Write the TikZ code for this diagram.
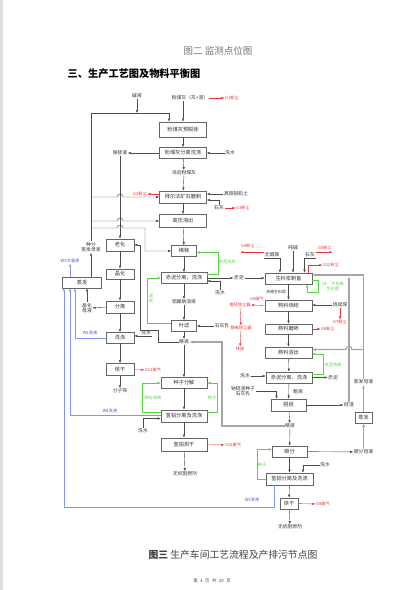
\documentclass[tikz,border=0pt]{standalone}
\usepackage{fontspec}
\setmainfont{Noto Sans CJK SC}
\usetikzlibrary{arrows.meta}
\definecolor{ggreen}{RGB}{80,215,60}
\definecolor{lblue}{RGB}{130,150,250}
\definecolor{dblue}{RGB}{80,80,230}
\definecolor{rred}{RGB}{235,50,50}

\begin{document}
\begin{tikzpicture}[x=1pt, y=-1pt,
    box/.style={draw=black!60, line width=0.6pt, fill=white, minimum width=47pt, minimum height=11pt, inner sep=0pt, font=\fontsize{5.2}{6}\selectfont, text=black!80},
    sbox/.style={box, minimum width=28pt},
    lab/.style={inner sep=0.5pt, font=\fontsize{4.8}{5.6}\selectfont, text=black!80, align=center},
    rlab/.style={lab, text=rred, font=\fontsize{4.2}{5}\selectfont},
    glab/.style={lab, text=ggreen, font=\fontsize{4.2}{5}\selectfont},
    blab/.style={lab, text=dblue, font=\fontsize{4.2}{5}\selectfont},
    ln/.style={draw=black!70, line width=0.4pt},
    arr/.style={ln, -{Latex[length=3pt, width=2.4pt]}},
    rarr/.style={arr, draw=rred},
    garr/.style={arr, draw=ggreen},
    barr/.style={arr, draw=lblue},
    tline/.style={draw=black!35, line width=1.2pt},
    tarr/.style={tline, -{Latex[length=3.5pt, width=3pt]}}
]
\useasboundingbox (0,0) rectangle (416,590);
\fill[black!12] (0,0) rectangle (2.5,590);

% page texts
\node[font=\fontsize{9.5}{11}\selectfont, text=black!55] at (218,51) (fig2) {图二\ 监测点位图};
\node[font=\bfseries\fontsize{10.2}{12}\selectfont] at (134,74) (sec3) {三、生产工艺图及物料平衡图};
\node[font=\fontsize{9.8}{11}\selectfont, text=black!75] at (233,555) (fig3) {{\bfseries 图三}\ 生产车间工艺流程及产排污节点图};
\node[font=\fontsize{4.4}{5}\selectfont, text=black!70] at (212,581) (page) {第\hspace{2.5pt}3\hspace{2.5pt}页\hspace{2.5pt}共\hspace{2.5pt}28\hspace{2.5pt}页};

% top: fly ash and Bayer part
\node[lab] at (137,96) (jianye) {碱液};
\node[lab] at (190,98) (fmh) {粉煤灰（灰+渣）};
\node[rlab] at (232,98) (g1) {G1粉尘};
\node[box, minimum height=15pt] at (183,129.5) (b1) {粉煤灰预脱硅};
\node[box] at (183,153) (b2) {粉煤灰分离洗涤};
\node[lab] at (120,153) (tgy) {脱硅液};
\node[lab] at (230,153) (xs1) {洗水};
\node[lab] at (184,173) (xhf) {洗后粉煤灰};
\node[box, minimum height=12pt] at (183,197) (b3) {拜尔法矿石磨制};
\node[rlab] at (140,194) (g2) {G2粉尘};
\node[lab] at (236,194) (gly) {高铁铝矾土};
\node[lab] at (219,208) (sh1) {石灰};
\node[rlab] at (243,208) (g3) {G3粉尘};
\node[box, minimum height=13pt] at (183,221) (b4) {高压溶出};

% left: molecular sieve
\node[sbox, minimum height=12pt] at (120,245) (b5) {老化};
\node[sbox, minimum height=10pt] at (120,274) (b6) {晶化};
\node[sbox, minimum height=12pt] at (120,307) (b7) {分离};
\node[lab] at (87,308) (jhmy) {晶化\\母液};
\node[sbox] at (120,338) (b8) {洗涤};
\node[lab] at (146,333) (xs2) {洗水};
\node[sbox, minimum height=12pt] at (120,369.5) (b9) {烘干};
\node[rlab] at (153,370) (g11) {G11废气};
\node[lab] at (120,391) (fzs) {分子筛};
\node[box, minimum width=39pt] at (82,282.5) (zf1) {蒸发};
\node[lab] at (91,247) (zfmy1) {种分\\蒸发母液};
\node[blab] at (70,261) (w5) {W5冷凝液};
\node[blab] at (90,333) (w2) {W2洗液};
\node[blab] at (110,411) (w4) {W4洗液};
\node[blab] at (252,500) (w3) {W3洗液};

% middle: Bayer liquor
\node[box, minimum width=25pt] at (184,251) (b10) {稀释};
\node[box, minimum width=46pt] at (184,278) (b11) {赤泥分离、洗涤};
\node[glab] at (227,262) (chx1) {赤泥洗液};
\node[lab] at (239,278) (cn1) {赤泥};
\node[lab] at (220,293) (xs3) {洗水};
\node[lab] at (184,302) (lsn) {铝酸钠溶液};
\node[box, minimum width=25pt] at (184,326) (b12) {叶滤};
\node[glab] at (151,298) (lb) {滤\\饼};
\node[lab] at (222,326) (shr1) {石灰乳};
\node[lab] at (184,342) (jy1) {精液};
\node[box, minimum width=46pt] at (184,383) (b13) {种子分解};
\node[box, minimum width=46pt, minimum height=12pt] at (184,416) (b14) {氢铝分离及洗涤};
\node[glab] at (153,398) (zfmy2) {种分母液};
\node[glab] at (212,398) (zz1) {种子};
\node[lab] at (143,431) (xs4) {洗水};
\node[box, minimum width=46pt, minimum height=13pt] at (184,444.5) (b15) {氢铝烘干};
\node[rlab] at (233,445) (g10) {G10废气};
\node[lab] at (185,474) (wj1) {无机阻燃剂};

% right: sintering
\node[lab] at (272,255) (wym) {无烟煤};
\node[lab] at (293,248) (cj) {纯碱};
\node[lab] at (310,255) (sh2) {石灰};
\node[rlab] at (248,246) (g4) {G4粉尘};
\node[rlab] at (325,248) (g5) {G5粉尘};
\node[box] at (288.5,278.5) (b16) {生料浆制备};
\node[rlab] at (331,265) (g12) {G12粉尘};
\node[glab] at (333,286) (s1) {S1：不合格\\生料浆};
\node[lab, font=\fontsize{4}{5}\selectfont] at (276,292) (hg) {合格生料浆};
\node[box] at (288.5,305.5) (b17) {熟料烧结};
\node[rlab] at (257,299) (g6) {G6废气};
\node[rlab] at (240,305) (xf) {旋风除尘器};
\node[rlab] at (241,328) (jd) {静电除尘器};
\node[rlab] at (240,349) (pf) {排放};
\node[lab] at (340,305) (scm) {烧成煤};
\node[rlab] at (340,322) (g7) {G7粉尘};
\node[box, minimum height=10pt] at (288.5,329) (b18) {熟料磨碎};
\node[rlab] at (328,329) (g8) {G8粉尘};
\node[box] at (288.5,352.5) (b19) {熟料溶出};
\node[glab] at (333,365) (chx2) {赤泥洗液};
\node[box, minimum width=46pt] at (289,377.5) (b20) {赤泥分离、洗涤};
\node[lab] at (245,376) (xs5) {洗水};
\node[lab] at (333,378) (cn2) {赤泥};
\node[lab] at (298,392) (cy) {粗液};
\node[lab] at (243,391) (nz) {钠硅渣种子\\石灰乳};
\node[box, minimum width=35pt, minimum height=12pt] at (288.5,405) (b21) {脱硅};
\node[lab] at (349,405) (gz) {硅渣};
\node[lab] at (290,426) (jy2) {精液};
\node[box, minimum width=35pt] at (289.5,451.5) (b22) {碳分};
\node[lab] at (363.5,452) (tfmy) {碳分母液};
\node[lab] at (363.5,382) (zfmy3) {蒸发母液};
\node[box, minimum width=17pt] at (363.5,417.5) (b23) {蒸发};
\node[box, minimum width=47pt, minimum height=12pt] at (289.5,479) (b24) {氢铝分离及洗涤};
\node[glab] at (262,465) (zz2) {种子};
\node[lab] at (325,465) (xs6) {洗水};
\node[box, minimum width=18pt] at (289,503.5) (b25) {烘干};
\node[rlab] at (323,504) (g9) {G9废气};
\node[lab] at (290,527) (wj2) {无机阻燃剂};

% top connectors
\coordinate (top) at (91,113);
\coordinate (topR) at (169,113);
\draw[arr] (jianye) -- (jianye |- top);
\draw[ln] (zfmy1.north) -- (top);
\draw[arr] (top) -- (topR) -- (topR |- b1.north);
\draw[arr] (fmh.south -| b1.north) -- (b1.north);
\draw[rarr] (fmh.east) -- (g1.west);
\draw[arr] (b1) -- (b2);
\draw[arr] (b2) -- (tgy);
\draw[arr] (xs1) -- (b2);
\draw[arr] (b2) -- (xhf);
\draw[arr] (xhf) -- (b3);
\draw[rarr] ([yshift=3pt]b3.west) -- (g2.east);
\draw[arr] (gly.west) -- (gly.west -| b3.east);
\draw[arr] (sh1.north) |- ([yshift=-3pt]b3.east);
\draw[rarr] (sh1.east) -- (g3.west);
\draw[arr] (b3) -- (b4);
\draw[arr] (b4) -- (b10);

% 种分蒸发母液 branches, hopping the 脱硅液 line
\draw[arr] (91,197) -- (117,197) .. controls (117,193) and (123,193) .. (123,197) -- (b3.west);
\draw[arr] (91,221) -- (117,221) .. controls (117,217) and (123,217) .. (123,221) -- (b4.west);
\draw[arr] (91,228) -- (117,228) .. controls (117,224) and (123,224) .. (123,228) -- (145,228) |- (b10.west);
\draw[arr] (tgy) -- (b5);

% left column
\draw[arr] (b5) -- (b6);
\draw[arr] (b6) -- (b7);
\draw[arr] (b7) -- (b8);
\draw[arr] (b8) -- (b9);
\draw[arr] (b9) -- (fzs);
\draw[arr] (b7) -- (jhmy);
\draw[arr] (jhmy.north) -- (jhmy.north |- zf1.south);
\draw[arr] (zf1.north -| zfmy1.south) -- (zfmy1.south);
\draw[barr] (zf1.north -| w5.south) -- (w5.south);
\draw[arr] (xs2.south east) -- (xs2.south east -| b8.east);
\draw[rarr] (b9) -- (g11);
\draw[arr] (jy1.west) -- (158,342) -- (158,330) -- (140,330) |- (b5.east);

% wash liquors to evaporation
\draw[barr] (b8.west) -| ([xshift=-7pt]zf1.south);
\draw[barr] ([yshift=1pt]b14.west) -| ([xshift=-12pt]zf1.south);
\draw[barr] ([xshift=-15.5pt]b24.south) -- ++(0,22) -| ([xshift=-18pt]zf1.south);

% middle column
\draw[arr] (b10) -- (b11);
\draw[arr] (b11) -- (lsn);
\draw[arr] (lsn) -- (b12);
\draw[arr] (b12) -- (jy1);
\draw[arr] (jy1) -- (b13);
\draw[arr] (b13) -- (b14);
\draw[arr] (b14) -- (b15);
\draw[arr] (b15) -- (wj1);
\draw[garr] ([yshift=4pt]b11.east) -- (218,274) |- ([yshift=-1.5pt]b10.east);
\draw[arr] (b11.east) -- (cn1.west);
\draw[arr] (cn1.east) -- (cn1.east -| b16.west);
\draw[arr] (xs3.north) |- ([yshift=-3pt]b11.east);
\draw[garr] ([yshift=3pt]b12.west) -- (147,323) |- (b11.west);
\draw[arr] (shr1) -- (b12);
\draw[tarr] (jy2.west) -- (222,426) |- (jy1.east);
\draw[garr] ([yshift=4pt]b14.west) -- (142,412) |- (b13.west);
\draw[garr] ([yshift=4pt]b14.east) -- (217,412) |- (b13.east);
\draw[arr] (xs4.north) |- ([yshift=-2.5pt]b14.west);
\draw[rarr] (b15) -- (g10);

% right column
\draw[arr] (wym.south west) -- (wym.south east) -- (wym.south east |- b16.north);
\draw[rarr] (wym.north west) -- (wym.north west -| g4.south west);
\draw[arr] (cj) -- (cj |- b16.north);
\draw[arr] (sh2.south east) -- (sh2.south west) -- (sh2.south west |- b16.north);
\draw[rarr] (sh2.north east) -- (sh2.north east -| g5.south east);
\draw[rarr] ([xshift=20pt]b16.north) |- (g12.west);
\draw[garr] ([yshift=-2pt]b16.east) -| (318,292) -| ([xshift=18.5pt]b16.south);
\draw[arr] (b16) -- (b17);
\draw[rarr] (b17.west) -- (xf.east);
\draw[rarr] (xf) -- (jd);
\draw[rarr] (jd) -- (pf);
\draw[arr] (scm.west) -- (scm.west -| b17.east);
\draw[rarr] (scm) -- (g7);
\draw[arr] (b17) -- (b18);
\draw[arr] (b18) -- (b19);
\draw[rarr] (b18) -- (g8);
\draw[garr] ([yshift=3pt]b20.east) -- (323,374.5) |- ([yshift=-1.5pt]b19.east);
\draw[arr] (b19) -- (b20);
\draw[arr] (xs5.east) -- (xs5.east -| b20.west);
\draw[arr] (b20.east) -- (b20.east -| cn2.west);
\draw[arr] (b20) -- (b21);
\draw[arr] (nz.east) -| ([xshift=-12pt]b21.north);
\draw[arr] (b21) -- (gz);
\draw[arr] (b21) -- (jy2);
\draw[arr] (jy2) -- (b22);
\draw[arr] (b22) -- (tfmy);
\draw[garr] (b24.west) -- (257,479) |- ([yshift=2pt]b22.west);
\draw[arr] (xs6.west) -| ([xshift=13.5pt]b24.north);
\draw[arr] (b22) -- (b24);
\draw[arr] (b24) -- (b25);
\draw[arr] (b25) -- (wj2);
\draw[rarr] (b25) -- (g9);

% mother liquor and silica residue back to raw slurry
\coordinate (jmy) at (363.5,349.5);
\coordinate (jgz) at (349,276.5);
\draw[tarr] (tfmy) -- (b23);
\draw[tarr] (b23) -- (zfmy3);
\draw[tarr] (zfmy3.north) |- ([yshift=3.5pt]b16.east);
\draw[tarr] (jmy) -- (352,349.5) .. controls (352,345.5) and (346,345.5) .. (346,349.5) -- ([yshift=3pt]b19.east);
\draw[tarr] (gz.north) -- (jgz);
\end{tikzpicture}
\end{document}
